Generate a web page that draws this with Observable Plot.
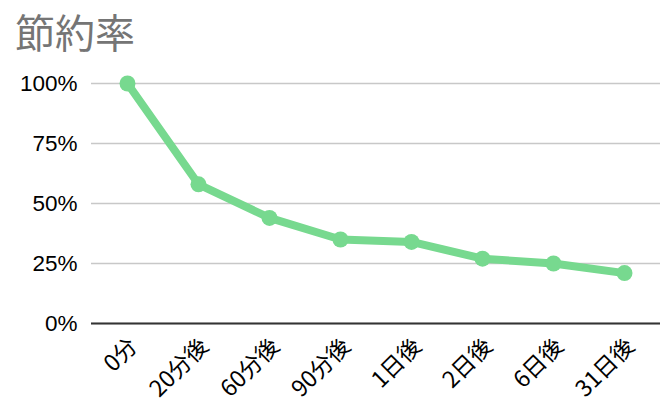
<!DOCTYPE html>
<html>
<head>
<meta charset="utf-8">
<script src="https://cdn.jsdelivr.net/npm/d3@7"></script>
<script src="https://cdn.jsdelivr.net/npm/@observablehq/plot@0.6"></script>
<style>
  body { margin: 0; background: #fff; font-family: "Liberation Sans", "Noto Sans CJK JP", sans-serif; }
  #title { height: 60px; box-sizing: border-box; padding: 11px 0 0 15px; font-size: 40px; line-height: 46px; color: #757575; font-family: "Liberation Sans", "Noto Sans CJK JP", sans-serif; }
</style>
</head>
<body>
<div id="title">節約率</div>
<div id="chart"></div>
<script>
const categories = ["0分", "20分後", "60分後", "90分後", "1日後", "2日後", "6日後", "31日後"];
const values = [100, 58, 44, 35, 34, 27, 25, 21];
const yTicks = [0, 25, 50, 75, 100];

const data = categories.map((c, i) => ({ cat: c, v: values[i] }));
const green = "#77d98f";

const chart = Plot.plot({
  width: 670,
  height: 354,
  marginTop: 23,
  marginBottom: 91,
  marginLeft: 91,
  marginRight: 10,
  style: { fontFamily: "'Liberation Sans', 'Noto Sans CJK JP', sans-serif", fontSize: "18px", color: "#000", background: "#fff" },
  x: { type: "point", domain: categories, padding: 0.5, label: null },
  y: { domain: [0, 100], label: null },
  marks: [
    Plot.gridY(yTicks, { stroke: "#c8c8c8", strokeOpacity: 1, strokeWidth: 1.5 }),
    Plot.ruleY([0], { stroke: "#333", strokeWidth: 2 }),
    Plot.axisY(yTicks, { tickSize: 0, tickPadding: 14, tickFormat: d => d + "%", fontSize: 22.5, fill: "#000", label: null }),
    Plot.axisX({ tickSize: 0, tickRotate: -45, tickPadding: 12, dx: 6, dy: 7, fontSize: 23, fill: "#000", fontFamily: "'Noto Sans CJK JP', sans-serif", label: null }),
    Plot.line(data, { x: "cat", y: "v", stroke: green, strokeWidth: 8, strokeLinejoin: "round", strokeLinecap: "round" }),
    Plot.dot(data, { x: "cat", y: "v", r: 8, fill: green, stroke: "none" })
  ]
});
document.getElementById("chart").appendChild(chart);
</script>
</body>
</html>
